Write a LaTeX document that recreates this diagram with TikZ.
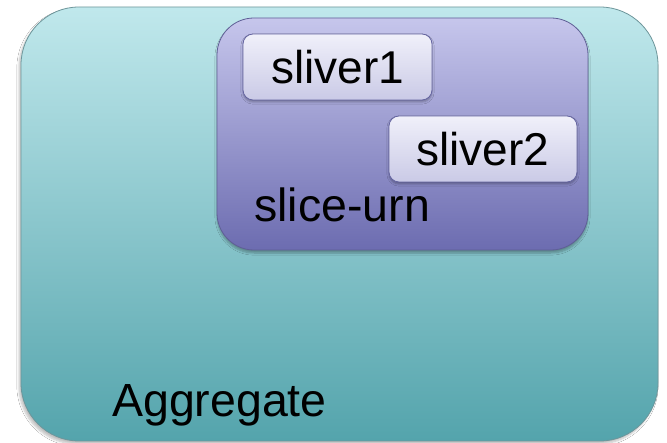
\documentclass[tikz,border=0pt]{standalone}
\usepackage{fontspec}
\setmainfont{Liberation Sans}
\usetikzlibrary{shadows.blur}
\definecolor{aggtop}{RGB}{192,232,236}
\definecolor{aggbot}{RGB}{84,164,172}
\definecolor{aggline}{RGB}{110,150,155}
\definecolor{urntop}{RGB}{198,198,236}
\definecolor{urnbot}{RGB}{108,108,176}
\definecolor{urnline}{RGB}{95,95,150}
\definecolor{slvtop}{RGB}{240,240,250}
\definecolor{slvbot}{RGB}{202,202,230}
\definecolor{slvline}{RGB}{100,100,160}
\tikzset{
  aggbox/.style={draw=aggline, line width=0.8pt, top color=aggtop, bottom color=aggbot,
    rounded corners=58pt, inner sep=0pt,
    blur shadow={shadow xshift=-2pt, shadow yshift=-3pt, shadow blur steps=6, shadow opacity=25}},
  urnbox/.style={draw=urnline, line width=0.8pt, top color=urntop, bottom color=urnbot,
    rounded corners=37pt, inner sep=0pt,
    blur shadow={shadow xshift=0pt, shadow yshift=-3pt, shadow blur steps=6, shadow opacity=30}},
  slvbox/.style={draw=slvline, line width=0.8pt, top color=slvtop, bottom color=slvbot,
    rounded corners=10pt, inner sep=0pt, font=\fontsize{46}{55}\selectfont,
    blur shadow={shadow xshift=0pt, shadow yshift=-2pt, shadow blur steps=4, shadow opacity=30}},
  lbl/.style={font=\fontsize{46.5}{56}\selectfont, inner sep=0pt, anchor=base west}
}
\begin{document}
\begin{tikzpicture}[x=1pt,y=-1pt]
\useasboundingbox (0,0) rectangle (667,443);
\fill[white] (0,0) rectangle (667,443);
\node[aggbox, minimum width=637pt, minimum height=434pt] (agg) at (339.5,224) {};
\node[urnbox, minimum width=371pt, minimum height=232pt] (urn) at (402.5,134) {};
\node[slvbox, minimum width=189pt, minimum height=66pt] (s1) at (337.5,67) {sliver1};
\node[slvbox, minimum width=188pt, minimum height=66pt] (s2) at (483,149) {sliver2};
\node[lbl] (urnlbl) at (254,222) {slice-urn};
\node[lbl] (agglbl) at (112,417) {Aggregate};
\end{tikzpicture}
\end{document}
